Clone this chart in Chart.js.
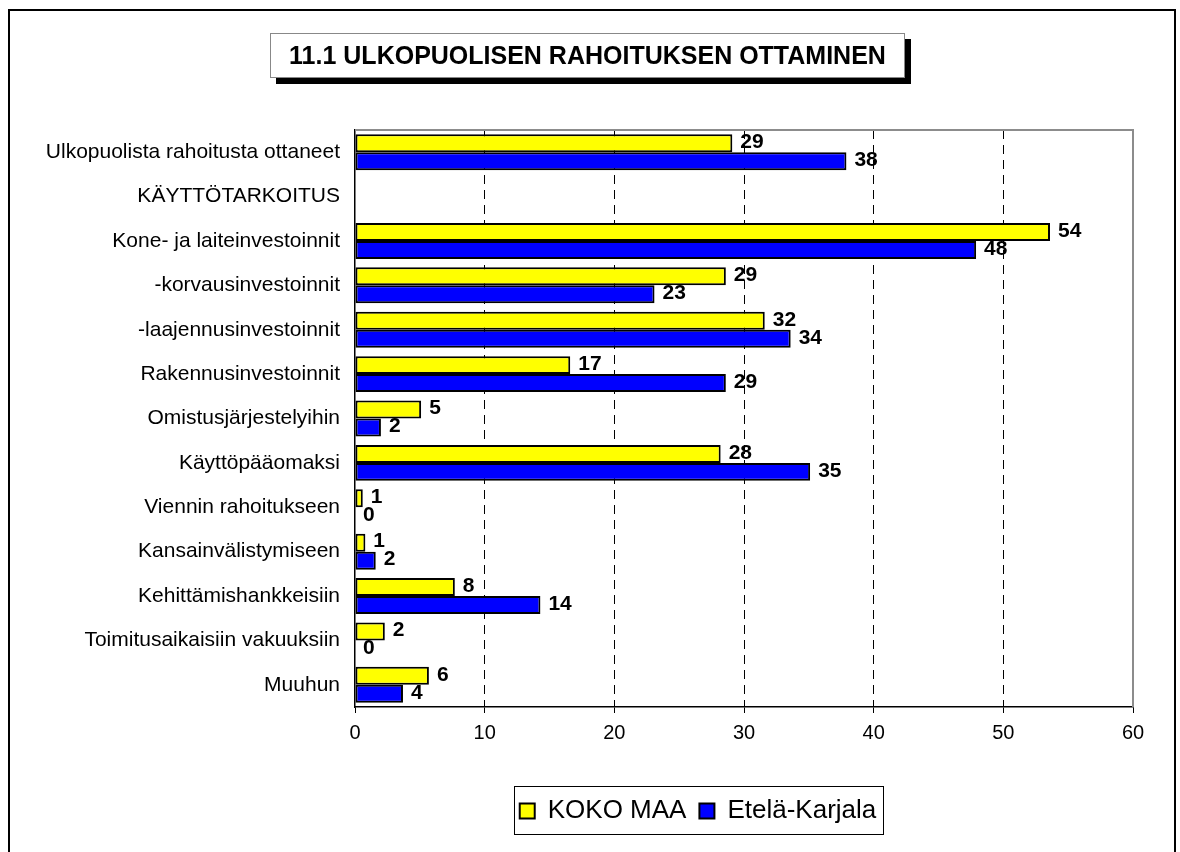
<!DOCTYPE html>
<html>
<head>
<meta charset="utf-8">
<title>11.1 Ulkopuolisen rahoituksen ottaminen</title>
<script src="https://cdn.jsdelivr.net/npm/chart.js@4.4.0/dist/chart.umd.min.js"></script>
<style>
  html, body { margin: 0; padding: 0; background: #fff; }
  #wrap { position: relative; width: 1180px; height: 852px; overflow: hidden; }
  #kehys { position: absolute; left: 8px; top: 9px; width: 1164px; height: 860px;
           border: 2px solid #000; border-bottom: none; }
  #otsikko { position: absolute; left: 270px; top: 33px; width: 633px; height: 43px;
             border: 1px solid #888; background: #fff; box-shadow: 6px 6px 0 #000;
             font: bold 25px "Liberation Sans", Arial, sans-serif; color: #000;
             display: flex; align-items: center; justify-content: center; z-index: 2; }
  canvas { position: absolute; left: 0; top: 0; }
</style>
</head>
<body>
<div id="wrap">
  <div id="kehys"></div>
  <canvas id="kaavio" width="1180" height="852"></canvas>
  <div id="otsikko">11.1 ULKOPUOLISEN RAHOITUKSEN OTTAMINEN</div>
</div>
<script>
// Luokat ja arvot (luettu kuvasta)
const kategoriat = [
    'Ulkopuolista rahoitusta ottaneet',
    'KÄYTTÖTARKOITUS',
    'Kone- ja laiteinvestoinnit',
    '-korvausinvestoinnit',
    '-laajennusinvestoinnit',
    'Rakennusinvestoinnit',
    'Omistusjärjestelyihin',
    'Käyttöpääomaksi',
    'Viennin rahoitukseen',
    'Kansainvälistymiseen',
    'Kehittämishankkeisiin',
    'Toimitusaikaisiin vakuuksiin',
    'Muuhun'
];
const kokoMaa = [29.1, null, 53.6, 28.6, 31.6, 16.6, 5.1, 28.2, 0.6, 0.8, 7.7, 2.3, 5.7];
const etelaKarjala = [37.9, null, 47.9, 23.1, 33.6, 28.6, 2.0, 35.1, 0, 1.6, 14.3, 0, 3.7];
const xTikit = [0, 10, 20, 30, 40, 50, 60];

const fontti = '"Liberation Sans", Arial, sans-serif';

// Arvot palkkien perään
const arvoPlugin = {
    id: 'arvot',
    afterDatasetsDraw(chart) {
        const ctx = chart.ctx;
        ctx.save();
        ctx.font = 'bold 21px ' + fontti;
        ctx.fillStyle = '#000';
        ctx.textAlign = 'left';
        ctx.textBaseline = 'middle';
        chart.data.datasets.forEach((ds, i) => {
            chart.getDatasetMeta(i).data.forEach((palkki, j) => {
                const v = ds.data[j];
                if (v === null) return;
                ctx.fillText(String(Math.round(v)), palkki.x + 8, palkki.y - 1);
            });
        });
        ctx.restore();
    }
};

// Harmaa reuna piirtoalueen ylä- ja oikealle puolelle
const alueenReuna = {
    id: 'alueenReuna',
    beforeDatasetsDraw(chart) {
        const {ctx, chartArea: a} = chart;
        ctx.save();
        ctx.strokeStyle = '#8c8c8c';
        ctx.lineWidth = 2;
        ctx.beginPath();
        ctx.moveTo(a.left, a.top);
        ctx.lineTo(a.right, a.top);
        ctx.lineTo(a.right, a.bottom);
        ctx.stroke();
        ctx.restore();
    }
};

// Selite siirretään samaan kohtaan kuin alkuperäisessä ja laatikko ympärille
const selitteenLaatikko = {
    id: 'selitteenLaatikko',
    afterLayout(chart) {
        const l = chart.legend;
        const siirto = 698 - (l.left + l.right) / 2;
        l.left += siirto;
        l.right += siirto;
        l.legendHitBoxes.forEach(b => { b.left += siirto; });
    },
    afterDraw(chart) {
        const boxes = chart.legend.legendHitBoxes;
        if (!boxes || !boxes.length) return;
        const vasen = Math.min(...boxes.map(b => b.left)) - 6;
        const oikea = Math.max(...boxes.map(b => b.left + b.width)) + 6;
        const yla = Math.min(...boxes.map(b => b.top)) - 12;
        const ala = Math.max(...boxes.map(b => b.top + b.height)) + 10;
        const ctx = chart.ctx;
        ctx.save();
        ctx.strokeStyle = '#000';
        ctx.lineWidth = 1;
        ctx.strokeRect(Math.round(vasen) + 0.5, Math.round(yla) + 0.5, Math.round(oikea - vasen), Math.round(ala - yla));
        ctx.restore();
    }
};

const ctx = document.getElementById('kaavio').getContext('2d');
new Chart(ctx, {
    type: 'bar',
    data: {
        labels: kategoriat,
        datasets: [{
            label: 'KOKO MAA',
            data: kokoMaa,
            backgroundColor: '#ffff00',
            borderColor: '#000',
            borderWidth: c => (c.raw === 0 ? 0 : 2),
            borderSkipped: false
        }, {
            label: 'Etelä-Karjala',
            data: etelaKarjala,
            backgroundColor: '#0000ff',
            borderColor: '#000',
            borderWidth: c => (c.raw === 0 ? 0 : 2),
            borderSkipped: false
        }]
    },
    options: {
        indexAxis: 'y',
        responsive: false,
        animation: false,
        devicePixelRatio: 1,
        categoryPercentage: 0.81,
        barPercentage: 1.0,
        layout: { padding: { top: 130, left: 0, right: 47, bottom: 18 } },
        scales: {
            x: {
                min: 0,
                max: 60,
                afterBuildTicks: s => { s.ticks = xTikit.map(v => ({ value: v })); },
                afterFit: s => { s.height = 78; },
                grid: {
                    color: c => (c.tick && (c.tick.value === 0 || c.tick.value === 60) ? 'rgba(0,0,0,0)' : '#000'),
                    lineWidth: 1,
                    tickColor: '#000',
                    tickLength: 6,
                    tickBorderDash: []
                },
                border: { display: true, color: '#000', width: 1.5, dash: c => (c.tick ? [9, 6] : []) },
                ticks: { color: '#000', padding: 8, font: { family: fontti, size: 20 } }
            },
            y: {
                afterFit: s => { s.width = 355; },
                grid: { display: false, drawTicks: false },
                border: { display: true, color: '#000', width: 1.5 },
                ticks: { color: '#000', padding: 15, font: { family: fontti, size: 21 }, autoSkip: false }
            }
        },
        plugins: {
            legend: {
                position: 'bottom',
                labels: {
                    color: '#000',
                    boxWidth: 15,
                    boxHeight: 15,
                    padding: 13,
                    font: { family: fontti, size: 26 }
                }
            },
            tooltip: { enabled: false }
        }
    },
    plugins: [alueenReuna, arvoPlugin, selitteenLaatikko]
});
</script>
</body>
</html>
